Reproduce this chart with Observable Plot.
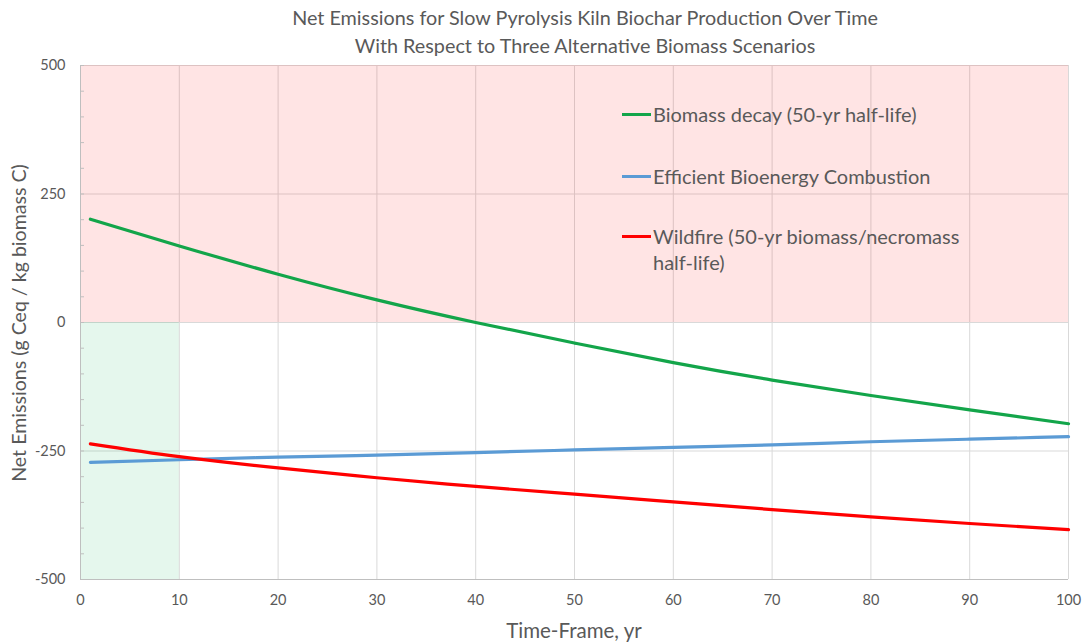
<!DOCTYPE html>
<html>
<head>
<meta charset="utf-8">
<script src="https://cdn.jsdelivr.net/npm/d3@7"></script>
<script src="https://cdn.jsdelivr.net/npm/@observablehq/plot@0.6"></script>
<style>
  html, body { margin: 0; padding: 0; background: #fff; }
  #wrap { position: relative; width: 1084px; height: 642px; font-family: Lato, "Open Sans", sans-serif; color: #595959; }
  #wrap svg { position: absolute; left: 0; top: 0; }
  .title { position: absolute; left: 235px; width: 700px; text-align: center; font-size: 19.8px; white-space: nowrap; }
  .ylab { position: absolute; left: 18px; top: 323px; transform: translate(-50%, -50%) rotate(-90deg); font-size: 19.6px; white-space: nowrap; }
  .xlab { position: absolute; left: 574px; top: 630px; transform: translate(-50%, -50%); font-size: 20.5px; white-space: nowrap; }
  .leg { position: absolute; left: 622px; font-size: 20px; line-height: 26px; }
  .leg .sw { position: absolute; left: 0; width: 29px; height: 3px; }
  .leg .tx { position: absolute; left: 31px; white-space: nowrap; }
</style>
</head>
<body>
<div id="wrap"></div>
<script>
// ---- data ----
const years = [1, 10, 20, 30, 40, 50, 60, 70, 80, 90, 100];
const biomassDecay = [201, 149, 94, 44, 0, -40, -78, -112, -142, -170, -197];
const bioenergy = [-272, -267, -262, -258, -253, -248, -243, -238, -232, -227, -222];
const wildfire = [-236, -261, -283, -302, -319, -334, -349, -364, -378, -391, -403];
const seriesNames = ["Biomass decay (50-yr half-life)", "Efficient Bioenergy Combustion", "Wildfire (50-yr biomass/necromass half-life)"];
const seriesColors = ["#13a54a", "#5b9bd5", "#ff0000"];
const xTicks = [0, 10, 20, 30, 40, 50, 60, 70, 80, 90, 100];
const yTicks = [-500, -250, 0, 250, 500];
const yMinor = d3.range(-500, 501, 50);
const zones = [
  {x1: 0, x2: 100, y1: 0, y2: 500, fill: "#ff0000", op: 0.105},
  {x1: 0, x2: 10, y1: -500, y2: 0, fill: "#00b050", op: 0.1}
];
const titleLines = ["Net Emissions for Slow Pyrolysis Kiln Biochar Production Over Time", "With Respect to Three Alternative Biomass Scenarios"];
const xLabel = "Time-Frame, yr";
const yLabel = "Net Emissions (g Ceq / kg biomass C)";

const rows = [];
[biomassDecay, bioenergy, wildfire].forEach((vals, s) => {
  years.forEach((yr, i) => rows.push({series: seriesNames[s], year: yr, value: vals[i]}));
});

const chart = Plot.plot({
  width: 1084,
  height: 642,
  marginTop: 65,
  marginBottom: 63,
  marginLeft: 80,
  marginRight: 16,
  style: {fontFamily: "Lato, 'Open Sans', sans-serif", fontSize: "14.5px", color: "#595959", background: "transparent"},
  x: {domain: [0, 100]},
  y: {domain: [-500, 500]},
  color: {domain: seriesNames, range: seriesColors},
  marks: [
    Plot.ruleX(xTicks, {stroke: "#d9d9d9", strokeWidth: 1}),
    Plot.ruleY(yTicks, {stroke: "#d9d9d9", strokeWidth: 1}),
    Plot.rect(zones, {x1: "x1", x2: "x2", y1: "y1", y2: "y2", fill: "fill", fillOpacity: "op"}),
    Plot.ruleX([0], {stroke: "#bfbfbf", strokeWidth: 1}),
    Plot.ruleY([-500], {stroke: "#bfbfbf", strokeWidth: 1}),
    Plot.axisY({ticks: yMinor, tickSize: 4, dx: 4, stroke: "#bfbfbf", strokeOpacity: 1, label: null, text: null}),
    Plot.axisY({ticks: yTicks, tickSize: 0, tickPadding: 15, label: null, fill: "#595959", tickFormat: d => String(d)}),
    Plot.axisX({ticks: xTicks, tickSize: 0, tickPadding: 15, label: null, fill: "#595959", tickFormat: d => String(d)}),
    Plot.line(rows, {x: "year", y: "value", z: "series", stroke: "series", strokeWidth: 3.2, curve: "natural"})
  ]
});

const wrap = document.getElementById("wrap");
wrap.appendChild(chart);

titleLines.forEach((t, i) => {
  const d = document.createElement("div");
  d.className = "title";
  d.style.top = (5 + i * 28) + "px";
  d.textContent = t;
  wrap.appendChild(d);
});
const yl = document.createElement("div"); yl.className = "ylab"; yl.textContent = yLabel; wrap.appendChild(yl);
const xl = document.createElement("div"); xl.className = "xlab"; xl.textContent = xLabel; wrap.appendChild(xl);

const legTops = [114, 176, 236];
seriesNames.forEach((name, i) => {
  const g = document.createElement("div");
  g.className = "leg";
  g.style.top = legTops[i] + "px";
  const sw = document.createElement("div");
  sw.className = "sw"; sw.style.background = seriesColors[i]; sw.style.top = "-1.5px";
  const tx = document.createElement("div");
  tx.className = "tx"; tx.style.top = "-13px";
  if (i === 2) { tx.innerHTML = "Wildfire (50-yr biomass/necromass<br>half-life)"; }
  else tx.textContent = name;
  g.appendChild(sw); g.appendChild(tx);
  wrap.appendChild(g);
});
</script>
</body>
</html>
